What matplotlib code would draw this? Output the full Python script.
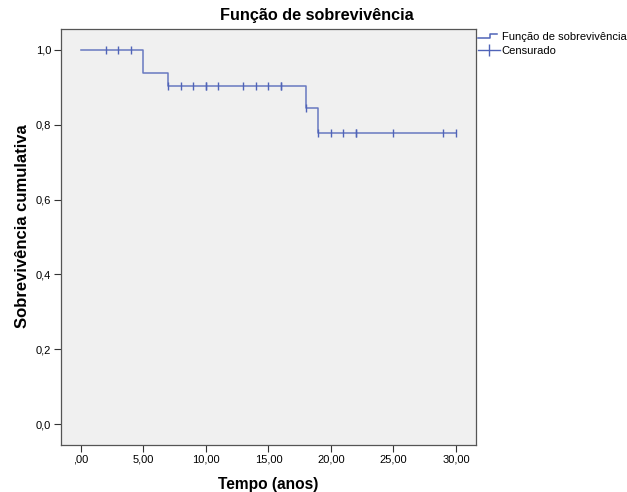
import numpy as np
import matplotlib.pyplot as plt
from matplotlib.lines import Line2D
from matplotlib.legend_handler import HandlerBase
from matplotlib.ticker import FuncFormatter

plt.rcParams['font.family'] = ['Liberation Sans', 'DejaVu Sans']

# tempos de evento e sobrevivência cumulativa (Kaplan-Meier)
step_times = [0, 5, 7, 18, 19, 30]
step_surv = [1.0, 0.9375, 0.904, 0.844, 0.779, 0.779]

# tempos censurados
censor_times = [2, 3, 4, 7, 8, 9, 10, 10, 11, 13, 14, 15, 16, 16, 18, 19, 20, 21, 22, 22, 25, 29, 30]

line_color = '#5064b8'

def surv_at(t):
    idx = np.searchsorted(step_times, t, side='right') - 1
    return step_surv[idx]

censor_surv = [surv_at(t) for t in censor_times]


class StepHandler(HandlerBase):
    # ícone em degrau como no SPSS
    def create_artists(self, legend, orig, xd, yd, w, h, fontsize, trans):
        xs = [xd, xd + 0.55 * w, xd + 0.55 * w, xd + 0.85 * w]
        ys = [yd + 0.3 * h, yd + 0.3 * h, yd + 0.85 * h, yd + 0.85 * h]
        ln = Line2D(xs, ys, color=orig.get_color(), lw=orig.get_linewidth())
        ln.set_transform(trans)
        return [ln]


fig = plt.figure(figsize=(6.27, 4.92), dpi=100)
ax = fig.add_axes([0.0973, 0.0955, 0.6617, 0.8455])
ax.set_facecolor('#f0f0f0')

ax.step(step_times, step_surv, where='post', color=line_color, lw=1.1, alpha=0.85)
ax.plot(censor_times, censor_surv, ls='none', marker='|', ms=6, mew=1.0, color=line_color)

ax.set_xlim(-1.6, 31.6)
ax.set_ylim(-0.056, 1.056)
ax.set_xticks([0, 5, 10, 15, 20, 25, 30])
ax.set_yticks([0, 0.2, 0.4, 0.6, 0.8, 1.0])

def fmt_x(v, pos):
    s = f'{v:.2f}'.replace('.', ',')
    return s[1:] if s.startswith('0') else s

ax.xaxis.set_major_formatter(FuncFormatter(fmt_x))
ax.yaxis.set_major_formatter(FuncFormatter(lambda v, p: f'{v:.1f}'.replace('.', ',')))
ax.tick_params(axis='both', labelsize=8, length=5, width=0.8, color='#333333', pad=2)

for sp in ax.spines.values():
    sp.set_color('#555555')
    sp.set_linewidth(0.9)

fig.text(0.506, 0.968, 'Função de sobrevivência', ha='center', va='center',
         fontsize=11.7, fontweight='bold')
ax.set_xlabel('Tempo (anos)', fontsize=11.2, fontweight='bold', labelpad=9)
ax.set_ylabel('Sobrevivência cumulativa', fontsize=12, fontweight='bold')
ax.yaxis.set_label_coords(-0.075, 0.526)

handles = [Line2D([], [], color=line_color, lw=1.1),
           Line2D([], [], color=line_color, lw=1.0, marker='|', ms=8)]
fig.legend(handles, ['Função de sobrevivência', 'Censurado'],
           loc='upper left', bbox_to_anchor=(0.762, 0.934), frameon=False,
           fontsize=8, handlelength=2.0, handletextpad=0.15, labelspacing=0.35,
           borderaxespad=0, borderpad=0,
           handler_map={handles[0]: StepHandler()})

fig.savefig('out.png', dpi=100, facecolor='white')
